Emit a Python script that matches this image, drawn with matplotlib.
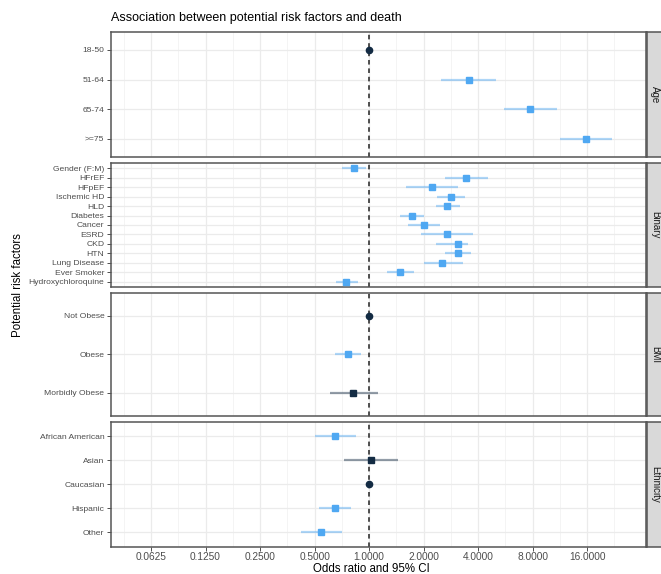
import numpy as np
import matplotlib
matplotlib.use('Agg')
import matplotlib.pyplot as plt
from matplotlib.ticker import NullFormatter, FixedLocator, FixedFormatter

plt.rcParams['font.family'] = ['Liberation Sans', 'DejaVu Sans']

# odds ratios and 95% CI
age_labels = ['18-50', '51-64', '65-74', '>=75']
age_or = [1.0, 3.58, 7.74, 15.8]
age_lo = [1.0, 2.51, 5.55, 11.3]
age_hi = [1.0, 5.05, 10.9, 22.0]

binary_labels = ['Gender (F:M)', 'HFrEF', 'HFpEF', 'Ischemic HD', 'HLD', 'Diabetes', 'Cancer',
                 'ESRD', 'CKD', 'HTN', 'Lung Disease', 'Ever Smoker', 'Hydroxychloroquine']
binary_or = [0.83, 3.43, 2.22, 2.84, 2.71, 1.73, 2.00, 2.69, 3.08, 3.09, 2.52, 1.48, 0.75]
binary_lo = [0.71, 2.62, 1.60, 2.38, 2.33, 1.49, 1.64, 1.93, 2.33, 2.62, 2.01, 1.26, 0.66]
binary_hi = [0.96, 4.53, 3.09, 3.37, 3.18, 2.01, 2.46, 3.76, 3.53, 3.66, 3.29, 1.78, 0.87]

bmi_labels = ['Not Obese', 'Obese', 'Morbidly Obese']
bmi_or = [1.0, 0.76, 0.82]
bmi_lo = [1.0, 0.65, 0.61]
bmi_hi = [1.0, 0.90, 1.12]

eth_labels = ['African American', 'Asian', 'Caucasian', 'Hispanic', 'Other']
eth_or = [0.65, 1.02, 1.0, 0.65, 0.54]
eth_lo = [0.50, 0.73, 1.0, 0.53, 0.42]
eth_hi = [0.85, 1.44, 1.0, 0.79, 0.71]

facets = [
    ('Age', age_labels, age_or, age_lo, age_hi),
    ('Binary', binary_labels, binary_or, binary_lo, binary_hi),
    ('BMI', bmi_labels, bmi_or, bmi_lo, bmi_hi),
    ('Ethnicity', eth_labels, eth_or, eth_lo, eth_hi),
]

x_ticks = [0.0625, 0.125, 0.25, 0.5, 1, 2, 4, 8, 16]

W, H = 661, 574
fig = plt.figure(figsize=(W / 100, H / 100), dpi=100)

left, right = 110.7, 646.0
panels_px = [(32.0, 156.7), (162.7, 287.3), (292.7, 416.0), (422.0, 546.7)]

light = '#4FA8F2'
dark = '#132B43'

for i, (name, labels, ors, los, his) in enumerate(facets):
    top, bot = panels_px[i]
    ax = fig.add_axes([left / W, 1 - bot / H, (right - left) / W, (bot - top) / H])
    n = len(labels)
    ys = np.arange(n)
    ax.set_xscale('log', base=2)
    ax.set_xlim(2 ** -4.74, 2 ** 5.08)
    ax.set_ylim(n - 1 + 0.6, -0.6)

    ax.xaxis.set_major_locator(FixedLocator(x_ticks))
    ax.xaxis.set_minor_locator(FixedLocator([2 ** (k + 0.5) for k in range(-5, 5)]))
    ax.xaxis.set_minor_formatter(NullFormatter())
    ax.set_yticks(ys)
    ax.set_yticklabels(labels)
    ax.grid(which='major', color='#EBEBEB', lw=0.9)
    ax.grid(which='minor', axis='x', color='#F3F3F3', lw=0.6)
    ax.set_axisbelow(True)

    ax.axvline(1, color='#222222', lw=1.1, ls=(0, (3, 2.5)), zorder=2)

    for y, o, lo, hi in zip(ys, ors, los, his):
        if lo == 1 and hi == 1:
            ax.plot(o, y, 'o', color=dark, ms=4.5, zorder=4)
            continue
        signif = lo > 1 or hi < 1
        c = light if signif else dark
        ax.plot([lo, hi], [y, y], color=c, alpha=0.45, lw=1.6, solid_capstyle='butt', zorder=3)
        ax.plot(o, y, 's', color=c, ms=5, zorder=4)

    ax.tick_params(axis='y', labelsize=6.1, labelcolor='#4D4D4D', length=3, width=0.6, color='#333333', pad=1.5)
    ax.tick_params(axis='x', which='minor', length=0, labelbottom=False)
    if i == len(facets) - 1:
        ax.xaxis.set_major_formatter(FixedFormatter(['%.4f' % t for t in x_ticks]))
        ax.tick_params(axis='x', which='major', labelsize=7.3, labelcolor='#4D4D4D', length=3, width=0.6,
                       color='#333333', pad=1)
    else:
        ax.tick_params(axis='x', which='major', labelbottom=False, length=0)

    for s in ax.spines.values():
        s.set_color('#555555')
        s.set_linewidth(1.1)

    # facet strip on the right
    sax = fig.add_axes([(right + 1) / W, 1 - bot / H, 20 / W, (bot - top) / H])
    sax.set_xticks([])
    sax.set_yticks([])
    sax.set_facecolor('#D9D9D9')
    for s in sax.spines.values():
        s.set_color('#555555')
        s.set_linewidth(1.1)
    sax.text(0.42, 0.5, name, rotation=-90, ha='center', va='center', fontsize=7,
             color='#1A1A1A', transform=sax.transAxes)

fig.text(left / W, 1 - 18 / H, 'Association between potential risk factors and death',
         fontsize=9, ha='left', va='center', color='black')
fig.text(371 / W, 1 - 569 / H, 'Odds ratio and 95% CI', fontsize=8.3,
         ha='center', va='center', color='black')
fig.text(18 / W, 1 - 285 / H, 'Potential risk factors', fontsize=8.3, rotation=90,
         ha='center', va='center', color='black')

fig.savefig('out.png', dpi=100)
